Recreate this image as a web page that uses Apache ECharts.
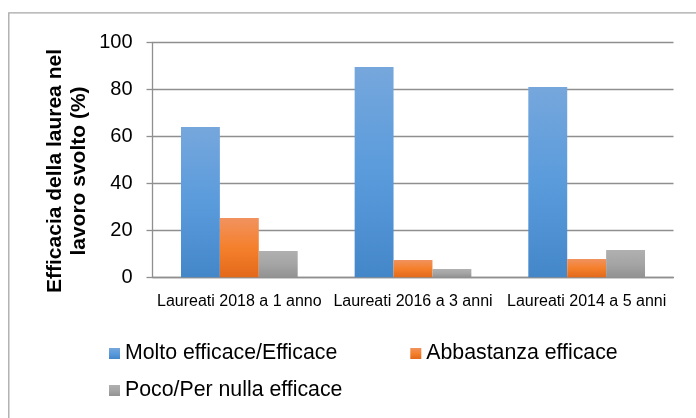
<!DOCTYPE html>
<html>
<head>
<meta charset="utf-8">
<script src="https://cdn.jsdelivr.net/npm/echarts@6/dist/echarts.min.js"></script>
<style>
    html,body{margin:0;padding:0;background:#fff;}
    #chart{width:696px;height:418px;}
</style>
</head>
<body>
<div id="chart"></div>
<script>
    // categorie e serie
    var categories = ['Laureati 2018 a 1 anno', 'Laureati 2016 a 3 anni', 'Laureati 2014 a 5 anni'];
    var seriesNames = ['Molto efficace/Efficace', 'Abbastanza efficace', 'Poco/Per nulla efficace'];
    var moltoEfficace = [64.0, 89.5, 81.0];
    var abbastanzaEfficace = [25.2, 7.4, 7.8];
    var pocoEfficace = [11.2, 3.5, 11.6];
    var yTicks = [0, 20, 40, 60, 80, 100];

    var font = 'Liberation Sans, Arial, sans-serif';
    function grad(top, mid, bottom){
        return new echarts.graphic.LinearGradient(0, 0, 0, 1, [
            {offset:0, color:top},
            {offset:0.5, color:mid},
            {offset:1, color:bottom}
        ]);
    }
    var colors = [
        grad('#76a7dc', '#5a9bdc', '#4487c9'),
        grad('#f1925f', '#f5802c', '#e2691a'),
        grad('#b0b0b0', '#a5a5a5', '#929292')
    ];

    var chart = echarts.init(document.getElementById('chart'));
    chart.setOption({
        backgroundColor:'#fff',
        animation:false,
        grid:{left:152.5, right:22.5, top:42.3, bottom:140.7},
        legend:[
            {
                data:[seriesNames[0], seriesNames[1]],
                left:104, top:338,
                itemWidth:11, itemHeight:11, itemGap:73,
                icon:'rect',
                textStyle:{fontFamily:font, fontSize:21.3, color:'#000'}
            },
            {
                data:[seriesNames[2]],
                left:104, top:375,
                itemWidth:11, itemHeight:11,
                icon:'rect',
                textStyle:{fontFamily:font, fontSize:21.3, color:'#000'}
            }
        ],
        xAxis:{
            type:'category',
            data:categories,
            axisLine:{lineStyle:{color:'#8f8f8f', width:1.3}},
            axisTick:{length:7, lineStyle:{color:'#8f8f8f', width:1.3}},
            axisLabel:{interval:0, margin:16, fontFamily:font, fontSize:16, color:'#000'}
        },
        yAxis:{
            type:'value',
            min:yTicks[0], max:yTicks[yTicks.length-1], interval:20,
            axisLine:{show:true, lineStyle:{color:'#8f8f8f', width:1.3}},
            axisTick:{show:true, length:6, lineStyle:{color:'#8f8f8f', width:1.3}},
            splitLine:{lineStyle:{color:'#8f8f8f', width:1.3}},
            axisLabel:{margin:20, fontFamily:font, fontSize:20, color:'#000'}
        },
        graphic:[
            {
                type:'rect',
                shape:{x:8.8, y:12.8, width:720, height:440},
                style:{fill:null, stroke:'#a6a6a6', lineWidth:1.3},
                silent:true
            },
            {
                type:'text',
                x:67, y:171,
                rotation:Math.PI/2,
                style:{
                    text:'Efficacia della laurea nel\nlavoro svolto (%)',
                    fontFamily:font, fontSize:21, fontWeight:'bold',
                    fill:'#000', align:'center', verticalAlign:'middle', lineHeight:24
                }
            }
        ],
        series:[
            {name:seriesNames[0], type:'bar', data:moltoEfficace, barGap:'0%', barCategoryGap:'32.8%', itemStyle:{color:colors[0]}},
            {name:seriesNames[1], type:'bar', data:abbastanzaEfficace, barGap:'0%', barCategoryGap:'32.8%', itemStyle:{color:colors[1]}},
            {name:seriesNames[2], type:'bar', data:pocoEfficace, barGap:'0%', barCategoryGap:'32.8%', itemStyle:{color:colors[2]}}
        ]
    });
</script>
</body>
</html>
